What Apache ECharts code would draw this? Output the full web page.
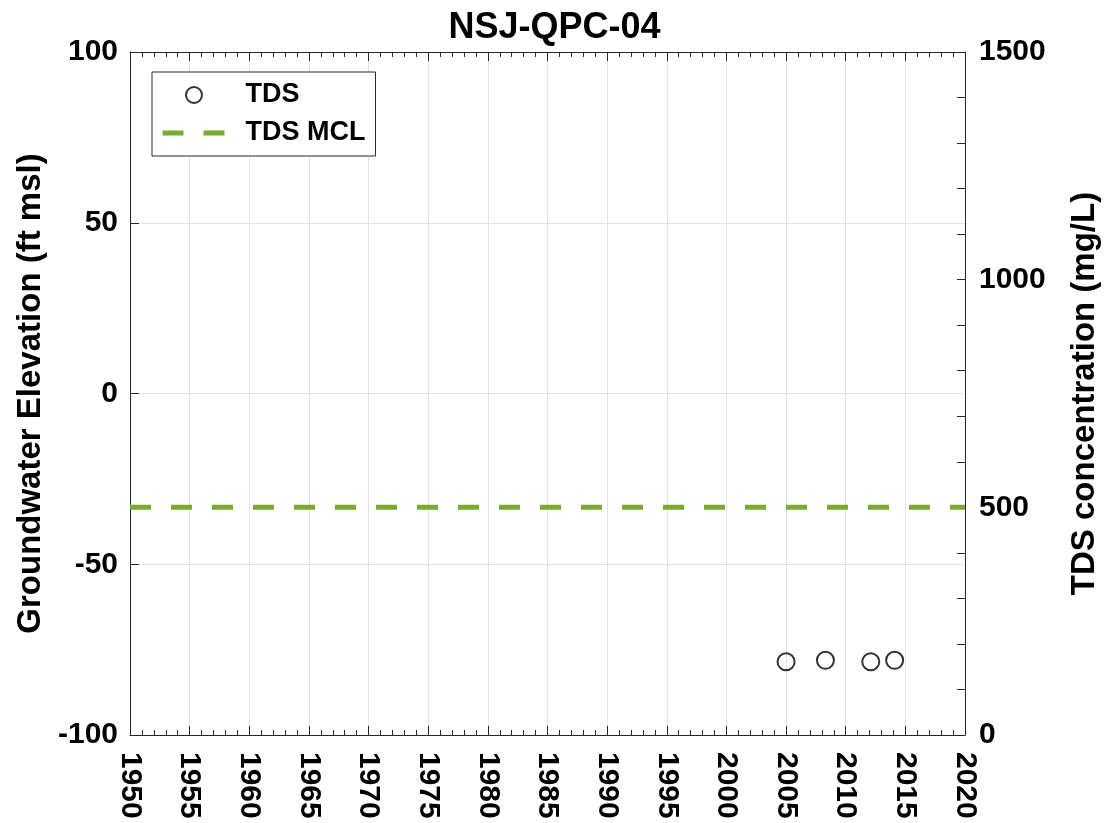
<!DOCTYPE html>
<html>
<head>
<meta charset="utf-8">
<script src="https://cdn.jsdelivr.net/npm/echarts@6/dist/echarts.min.js"></script>
<style>html,body{margin:0;padding:0;background:#fff;}#c{width:1109px;height:823px;}</style>
</head>
<body>
<div id="c"></div>
<script>
// Data
const titleText = 'NSJ-QPC-04';
const tdsYears = [2005.0, 2008.3, 2012.1, 2014.1];
const tdsValues = [161, 164, 161, 164];
const mclYears = [1950, 2020];
const mclValues = [500, 500];
const xTicks = { min: 1950, max: 2020, interval: 5 };
const yLeftTicks = { min: -100, max: 100, interval: 50 };
const yRightTicks = { min: 0, max: 1500, interval: 500 };

const FONT = '"Liberation Sans", Arial, sans-serif';
const AX = '#262626';
const plain = v => String(v);

const chart = echarts.init(document.getElementById('c'));
chart.setOption({
  animation: false,
  backgroundColor: '#fff',
  title: {
    text: titleText, left: 'center', top: 5,
    textStyle: { fontFamily: FONT, fontWeight: 'bold', fontSize: 36, color: '#000' }
  },
  grid: { left: 130, right: 140, top: 52, bottom: 88, containLabel: false },
  legend: {
    orient: 'vertical', left: 152, top: 72,
    backgroundColor: '#fff', borderColor: AX, borderWidth: 1,
    padding: [8, 10, 8, 8], itemGap: 8, itemWidth: 63, itemHeight: 16,
    textStyle: { fontFamily: FONT, fontWeight: 'bold', fontSize: 27, color: '#000', lineHeight: 30, padding: [0, 0, 0, 15] },
    data: [
      { name: 'TDS' },
      { name: 'TDS MCL', itemStyle: { opacity: 0 }, lineStyle: { color: '#77AC30', width: 5, type: [21, 20], opacity: 1 } }
    ]
  },
  xAxis: [{
    type: 'value', min: xTicks.min, max: xTicks.max, interval: xTicks.interval,
    axisLine: { show: true, onZero: false, lineStyle: { color: AX, width: 1 } },
    axisTick: { show: true, inside: true, length: 9, lineStyle: { color: AX } },
    minorTick: { show: true, splitNumber: 5, length: 5, lineStyle: { color: AX } },
    splitLine: { show: true, lineStyle: { color: '#e3e3e3', width: 1 } },
    axisLabel: { rotate: -90, margin: 17, formatter: plain, fontFamily: FONT, fontWeight: 'bold', fontSize: 30, color: '#000' }
  }, {
    type: 'value', position: 'top', min: xTicks.min, max: xTicks.max, interval: xTicks.interval,
    axisLine: { show: true, onZero: false, lineStyle: { color: AX, width: 1 } },
    axisTick: { show: true, inside: true, length: 9, lineStyle: { color: AX } },
    minorTick: { show: true, splitNumber: 5, length: 5, lineStyle: { color: AX } },
    splitLine: { show: false }, axisLabel: { show: false }
  }],
  yAxis: [{
    type: 'value', position: 'left', min: yLeftTicks.min, max: yLeftTicks.max, interval: yLeftTicks.interval,
    name: 'Groundwater Elevation (ft msl)', nameLocation: 'middle', nameGap: 78,
    nameTextStyle: { fontFamily: FONT, fontWeight: 'bold', fontSize: 33, color: '#000' },
    axisLine: { show: true, onZero: false, lineStyle: { color: AX, width: 1 } },
    axisTick: { show: true, inside: true, length: 9, lineStyle: { color: AX } },
    splitLine: { show: true, lineStyle: { color: '#e3e3e3', width: 1 } },
    axisLabel: { margin: 12, formatter: plain, fontFamily: FONT, fontWeight: 'bold', fontSize: 30, color: '#000' }
  }, {
    type: 'value', position: 'right', min: yRightTicks.min, max: yRightTicks.max, interval: yRightTicks.interval,
    name: 'TDS concentration (mg/L)', nameLocation: 'middle', nameGap: 103, nameRotate: 90,
    nameTextStyle: { fontFamily: FONT, fontWeight: 'bold', fontSize: 33, color: '#000' },
    axisLine: { show: true, onZero: false, lineStyle: { color: AX, width: 1 } },
    axisTick: { show: true, inside: true, length: 8, lineStyle: { color: AX } },
    minorTick: { show: true, splitNumber: 5, length: 8, lineStyle: { color: AX } },
    splitLine: { show: false },
    axisLabel: { margin: 14, formatter: plain, fontFamily: FONT, fontWeight: 'bold', fontSize: 30, color: '#000' }
  }],
  series: [{
    name: 'TDS', type: 'scatter', yAxisIndex: 1,
    symbol: 'circle', symbolSize: 17,
    itemStyle: { color: 'rgba(0,0,0,0)', borderColor: '#000', borderWidth: 2 },
    data: tdsYears.map((y, i) => [y, tdsValues[i]]), z: 5
  }, {
    name: 'TDS MCL', type: 'line', yAxisIndex: 1, symbol: 'none',
    lineStyle: { color: '#77AC30', width: 5, type: [21, 20] },
    itemStyle: { color: '#77AC30' },
    data: mclYears.map((y, i) => [y, mclValues[i]]), z: 4
  }]
});
</script>
</body>
</html>
